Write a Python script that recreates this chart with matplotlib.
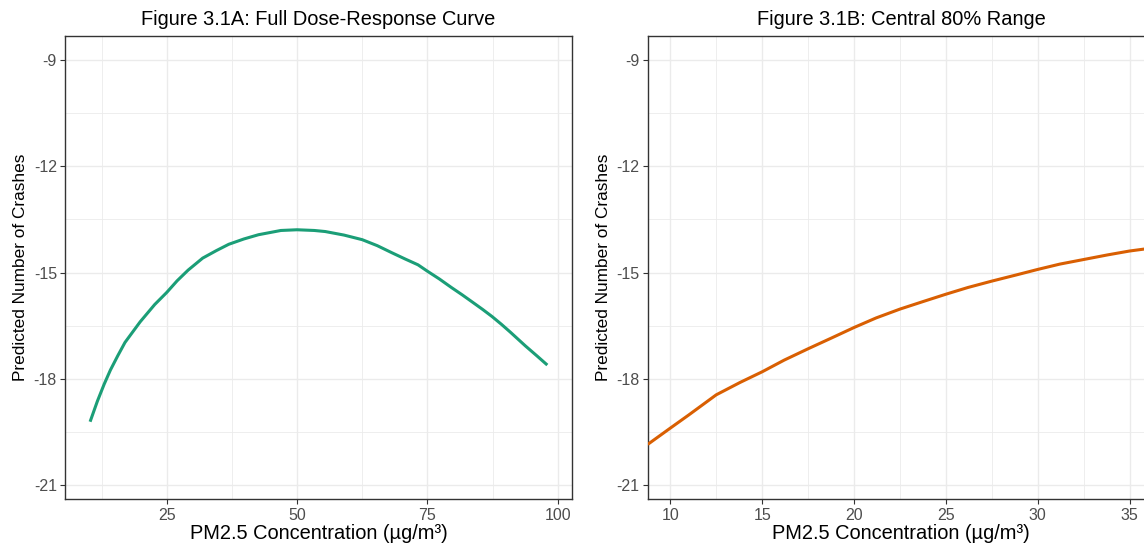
import numpy as np
import matplotlib
matplotlib.use("Agg")
import matplotlib.pyplot as plt
from matplotlib.ticker import MultipleLocator

plt.rcParams['font.family'] = ['Liberation Sans', 'DejaVu Sans']
plt.rcParams['axes.unicode_minus'] = False

# Full range of PM2.5 and the predicted crashes along the fitted curve
pm_full = [10.3, 11.7, 13.0, 14.2, 15.6, 17.0, 19.9, 22.7, 25.0, 27.0, 29.1,
           31.9, 34.5, 36.9, 39.8, 42.6, 46.9, 50.0, 53.3, 55.4, 59.0, 62.5,
           65.4, 68.2, 70.8, 73.2, 75.0, 77.3, 79.6, 81.7, 83.8, 85.6, 87.4,
           89.2, 90.9, 93.8, 96.0, 98.0]
crash_full = [-19.21, -18.63, -18.15, -17.75, -17.35, -16.97, -16.39, -15.90,
              -15.56, -15.23, -14.93, -14.59, -14.38, -14.20, -14.05, -13.93,
              -13.81, -13.79, -13.81, -13.84, -13.94, -14.07, -14.24, -14.44,
              -14.62, -14.78, -14.96, -15.18, -15.42, -15.63, -15.85, -16.04,
              -16.24, -16.46, -16.68, -17.07, -17.35, -17.61]

# Central 80% of the exposure distribution
pm_central = [8.77, 10.0, 11.0, 12.5, 13.8, 15.0, 16.2, 17.5, 18.8, 20.0,
              21.2, 22.5, 23.8, 25.0, 26.2, 27.5, 28.8, 30.0, 31.2, 32.5,
              33.8, 35.0, 36.3]
crash_central = [-19.85, -19.39, -19.02, -18.45, -18.10, -17.80, -17.47,
                 -17.15, -16.84, -16.55, -16.28, -16.03, -15.81, -15.61,
                 -15.42, -15.24, -15.07, -14.91, -14.76, -14.63, -14.50,
                 -14.39, -14.30]

x_label = 'PM2.5 Concentration (µg/m³)'
y_label = 'Predicted Number of Crashes'
y_ticks = [-21, -18, -15, -12, -9]

fig = plt.figure(figsize=(11.44, 5.43), dpi=100)
fig.patch.set_facecolor('white')

panels = [
    dict(pos=[0.0571, 0.0805, 0.4427, 0.8538], x=pm_full, y=crash_full,
         color='#1b9e77', xlim=(5.55, 102.69), major=25,
         title='Figure 3.1A: Full Dose-Response Curve'),
    dict(pos=[0.5662, 0.0805, 0.4427, 0.8538], x=pm_central, y=crash_central,
         color='#d95f02', xlim=(8.77, 36.34), major=5,
         title='Figure 3.1B: Central 80% Range'),
]

for p in panels:
    ax = fig.add_axes(p['pos'])
    ax.plot(p['x'], p['y'], color=p['color'], lw=2.2, solid_capstyle='butt',
            zorder=3)
    ax.set_xlim(*p['xlim'])
    ax.set_ylim(-21.40, -8.31)
    ax.xaxis.set_major_locator(MultipleLocator(p['major']))
    ax.xaxis.set_minor_locator(MultipleLocator(p['major'] / 2))
    ax.set_yticks(y_ticks)
    ax.yaxis.set_minor_locator(MultipleLocator(1.5))

    ax.grid(which='major', color='#ebebeb', lw=1.0, zorder=0)
    ax.grid(which='minor', color='#ebebeb', lw=0.6, zorder=0)
    ax.set_axisbelow(True)
    for s in ax.spines.values():
        s.set_color('#333333')
        s.set_linewidth(1.0)

    ax.tick_params(which='major', length=3.5, width=0.8, color='#333333',
                   labelcolor='#4d4d4d', labelsize=11.5, pad=2.5)
    ax.tick_params(which='minor', length=0)

    ax.set_xlabel(x_label, fontsize=14.4, labelpad=1)
    ax.set_ylabel(y_label, fontsize=12.4, labelpad=4)
    ax.set_title(p['title'], fontsize=14.4, pad=8)

fig.savefig('out.png', dpi=100, facecolor='white')
